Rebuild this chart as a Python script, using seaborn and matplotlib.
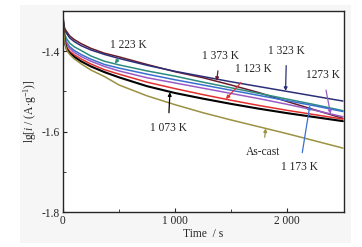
import matplotlib
matplotlib.use('Agg')
import matplotlib.pyplot as plt
import seaborn as sns
import pandas as pd
from matplotlib.patches import Rectangle
from matplotlib.ticker import FixedLocator, FuncFormatter

# time points (s)
time = [0, 5, 10, 20, 35, 60, 100, 160, 250, 370, 500, 750, 1000, 1250, 1500, 1750, 2000, 2250, 2500]

# lg(i) for each sample
k1373 = [-1.312, -1.328, -1.338, -1.346, -1.352, -1.362, -1.371, -1.381, -1.393, -1.405, -1.414, -1.433, -1.451, -1.466, -1.484, -1.503, -1.525, -1.546, -1.567]
k1323 = [-1.318, -1.333, -1.343, -1.351, -1.357, -1.367, -1.376, -1.386, -1.397, -1.408, -1.418, -1.435, -1.450, -1.463, -1.476, -1.488, -1.500, -1.512, -1.524]
k1223 = [-1.320, -1.337, -1.350, -1.362, -1.370, -1.380, -1.389, -1.398, -1.412, -1.425, -1.434, -1.449, -1.462, -1.477, -1.491, -1.505, -1.519, -1.533, -1.548]
k1173 = [-1.320, -1.339, -1.353, -1.368, -1.379, -1.389, -1.398, -1.408, -1.420, -1.433, -1.442, -1.457, -1.471, -1.484, -1.497, -1.510, -1.523, -1.536, -1.550]
k1273 = [-1.320, -1.340, -1.355, -1.372, -1.384, -1.393, -1.403, -1.413, -1.425, -1.438, -1.449, -1.466, -1.479, -1.492, -1.505, -1.518, -1.532, -1.547, -1.563]
k1123 = [-1.320, -1.343, -1.359, -1.378, -1.391, -1.400, -1.409, -1.419, -1.432, -1.446, -1.457, -1.477, -1.493, -1.508, -1.522, -1.535, -1.547, -1.558, -1.569]
k1073 = [-1.320, -1.345, -1.362, -1.382, -1.396, -1.405, -1.414, -1.425, -1.438, -1.452, -1.465, -1.487, -1.504, -1.518, -1.531, -1.543, -1.554, -1.564, -1.574]
ascast = [-1.320, -1.346, -1.363, -1.384, -1.398, -1.408, -1.419, -1.431, -1.447, -1.463, -1.484, -1.511, -1.533, -1.553, -1.571, -1.588, -1.605, -1.623, -1.641]

series = {
    '1 373 K': k1373, '1 323 K': k1323, '1 223 K': k1223, '1 173 K': k1173,
    '1273 K': k1273, '1 123 K': k1123, '1 073 K': k1073, 'As-cast': ascast,
}
colors = {
    '1 373 K': '#6a1c2c', '1 323 K': '#2c2f78', '1 223 K': '#2b8c7c', '1 173 K': '#3b6fcf',
    '1273 K': '#9a5cc4', '1 123 K': '#e3302f', '1 073 K': '#000000', 'As-cast': '#9b9140',
}
widths = {k: 1.1 for k in series}
widths['1 073 K'] = 1.5

df = pd.concat([pd.DataFrame({'time': time, 'lgi': v, 'sample': k}) for k, v in series.items()])

sns.set_style('ticks')
plt.rcParams['font.family'] = ['Liberation Serif', 'DejaVu Serif']
plt.rcParams['mathtext.fontset'] = 'custom'
plt.rcParams['mathtext.rm'] = 'Liberation Serif'
plt.rcParams['mathtext.it'] = 'Liberation Serif:italic'

fig = plt.figure(figsize=(3.62, 2.47), dpi=100)
fig.patches.append(Rectangle((20/362, 4/247), 331/362, 238/247, transform=fig.transFigure,
                             facecolor='#f6f6f6', edgecolor='none', zorder=-10))
ax = fig.add_axes([63/362, 35/247, 281/362, 201/247])

sns.lineplot(data=df, x='time', y='lgi', hue='sample', size='sample', sizes=widths,
             palette=colors, legend=False, ax=ax, sort=False)

ax.set_xlim(0, 2510)
ax.set_ylim(-1.8, -1.3)
ax.xaxis.set_major_locator(FixedLocator([0, 1000, 2000]))
ax.xaxis.set_minor_locator(FixedLocator([500, 1500]))
ax.yaxis.set_major_locator(FixedLocator([-1.8, -1.6, -1.4]))
ax.yaxis.set_minor_locator(FixedLocator([-1.7, -1.5]))
ax.xaxis.set_major_formatter(FuncFormatter(lambda v, p: f'{int(v):,}'.replace(',', ' ')))
ax.yaxis.set_major_formatter(FuncFormatter(lambda v, p: f'{v:.1f}'))
ax.tick_params(which='both', direction='in', labelsize=8.3, pad=2)
ax.tick_params(which='major', length=3)
ax.tick_params(which='minor', length=2)
for s in ax.spines.values():
    s.set_visible(True)
    s.set_linewidth(1.0)

ax.set_xlabel('Time  / s', fontsize=8.3, labelpad=1)
ax.set_ylabel(r'lg[$i$ / (A$\cdot$g$^{-1}$)]', fontsize=8.3, labelpad=2)

# labels with arrows: text position, arrow tip
notes = [
    ('1 223 K', (580, -1.385), (464, -1.431)),
    ('1 373 K', (1402, -1.412), (1372, -1.474)),
    ('1 323 K', (1997, -1.399), (1988, -1.499)),
    ('1 123 K', (1699, -1.445), (1455, -1.519)),
    ('1273 K', (2324, -1.460), (2390, -1.556)),
    ('1 073 K', (940, -1.590), (955, -1.502)),
    ('As-cast', (1789, -1.651), (1810, -1.592)),
    ('1 173 K', (2116, -1.689), (2205, -1.535)),
]
for name, txt, tip in notes:
    ax.annotate(name, xy=tip, xytext=txt, ha='center', va='center', fontsize=8.3,
                arrowprops=dict(arrowstyle='-|>', color=colors[name], lw=0.9,
                                mutation_scale=5, shrinkA=4, shrinkB=0))

fig.savefig('out.png', dpi=100)
